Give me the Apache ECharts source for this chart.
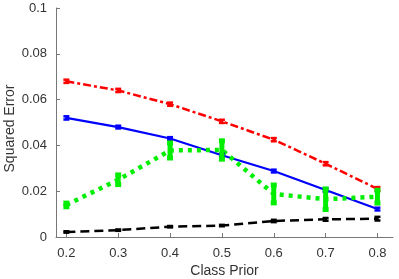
<!DOCTYPE html>
<html><head><meta charset="utf-8">
<script src="https://cdn.jsdelivr.net/npm/echarts@6/dist/echarts.min.js"></script>
<style>html,body{margin:0;padding:0;background:#fff}#c{width:399px;height:279px}</style>
</head><body><div id="c"></div>
<script>
const priors = [0.2, 0.3, 0.4, 0.5, 0.6, 0.7, 0.8];
const xTicks = [0.2, 0.3, 0.4, 0.5, 0.6, 0.7, 0.8];
const redVals = [0.068, 0.064, 0.058, 0.0505, 0.0425, 0.032, 0.021];
const redErr = [0.0007, 0.0007, 0.0007, 0.0007, 0.0007, 0.0007, 0.0008];
const blueVals = [0.052, 0.048, 0.043, 0.0357, 0.0288, 0.0205, 0.0122];
const blueErr = [0.0007, 0.0006, 0.0006, 0.0007, 0.0006, 0.0007, 0.0006];
const greenVals = [0.014, 0.025, 0.0378, 0.038, 0.0188, 0.0165, 0.0176];
const greenErr = [0.0008, 0.0021, 0.0033, 0.0040, 0.0039, 0.0045, 0.0028];
const blackVals = [0.0022, 0.003, 0.0045, 0.005, 0.007, 0.0077, 0.008];
const blackErr = [0.0003, 0.0003, 0.0003, 0.0003, 0.0005, 0.0006, 0.0008];

function pairs(v){ return priors.map((p,i)=>[p, v[i]]); }
function errData(v,e){ return priors.map((p,i)=>[p, v[i]-e[i], v[i]+e[i]]); }
function errSeries(v,e,color,w,cap){
  return {
    type:'custom', z:3,
    data: errData(v,e),
    renderItem:function(params, api){
      const x = api.value(0);
      const lo = api.coord([x, api.value(1)]);
      const hi = api.coord([x, api.value(2)]);
      const st = {stroke:color, lineWidth:w, lineCap:'butt'};
      return {type:'group', children:[
        {type:'line', shape:{x1:lo[0],y1:lo[1],x2:hi[0],y2:hi[1]}, style:st},
        {type:'line', shape:{x1:lo[0]-cap,y1:lo[1],x2:lo[0]+cap,y2:lo[1]}, style:st},
        {type:'line', shape:{x1:hi[0]-cap,y1:hi[1],x2:hi[0]+cap,y2:hi[1]}, style:st}
      ]};
    }
  };
}
function lineSeries(v,color,w,type,cap){
  return {type:'line', data:pairs(v), showSymbol:false, symbol:'none', z:2,
    lineStyle:{color:color, width:w, type:type, cap:cap||'butt'}};
}
const chart = echarts.init(document.getElementById('c'), null, {renderer:'canvas'});
const font = 'Liberation Sans';
chart.setOption({
  animation:false,
  grid:{left:56, right:6, top:8, bottom:42, containLabel:false, outerBoundsMode:'none'},
  xAxis:{type:'value', min:0.18, max:0.83,
    name:'Class Prior', nameLocation:'middle', nameGap:27, nameMoveOverlap:false,
    nameTextStyle:{fontFamily:font, fontSize:14, color:'#333'},
    axisLine:{lineStyle:{color:'#777', width:1}},
    axisTick:{inside:true, length:4, customValues:xTicks, lineStyle:{color:'#777'}},
    axisLabel:{customValues:xTicks, fontFamily:font, fontSize:13, color:'#333', margin:10,
      formatter:v=>String(Math.round(v*10)/10)},
    splitLine:{show:false}},
  yAxis:{type:'value', min:0, max:0.1, interval:0.02,
    name:'Squared Error', nameLocation:'middle', nameGap:39, nameMoveOverlap:false,
    nameTextStyle:{fontFamily:font, fontSize:14, color:'#333', padding:[0,12,0,0]},
    axisLine:{show:true, lineStyle:{color:'#777', width:1}},
    axisTick:{show:true, inside:true, length:4, lineStyle:{color:'#777'}},
    axisLabel:{fontFamily:font, fontSize:13, color:'#333', margin:9,
      formatter:v=>String(Math.round(v*100)/100)},
    splitLine:{show:false}},
  series:[
    lineSeries(redVals,'#ff0000',2.5,[8,3,3,3]),
    errSeries(redVals,redErr,'#ff0000',2.5,3),
    lineSeries(blueVals,'#0000ff',2.2,'solid'),
    errSeries(blueVals,blueErr,'#0000ff',2.5,3),
    lineSeries(greenVals,'#00ee00',4.5,[4,5]),
    errSeries(greenVals,greenErr,'#00ee00',5,3),
    lineSeries(blackVals,'#000000',2.5,[9,5]),
    errSeries(blackVals,blackErr,'#000000',2.5,3)
  ]
});
</script></body></html>
